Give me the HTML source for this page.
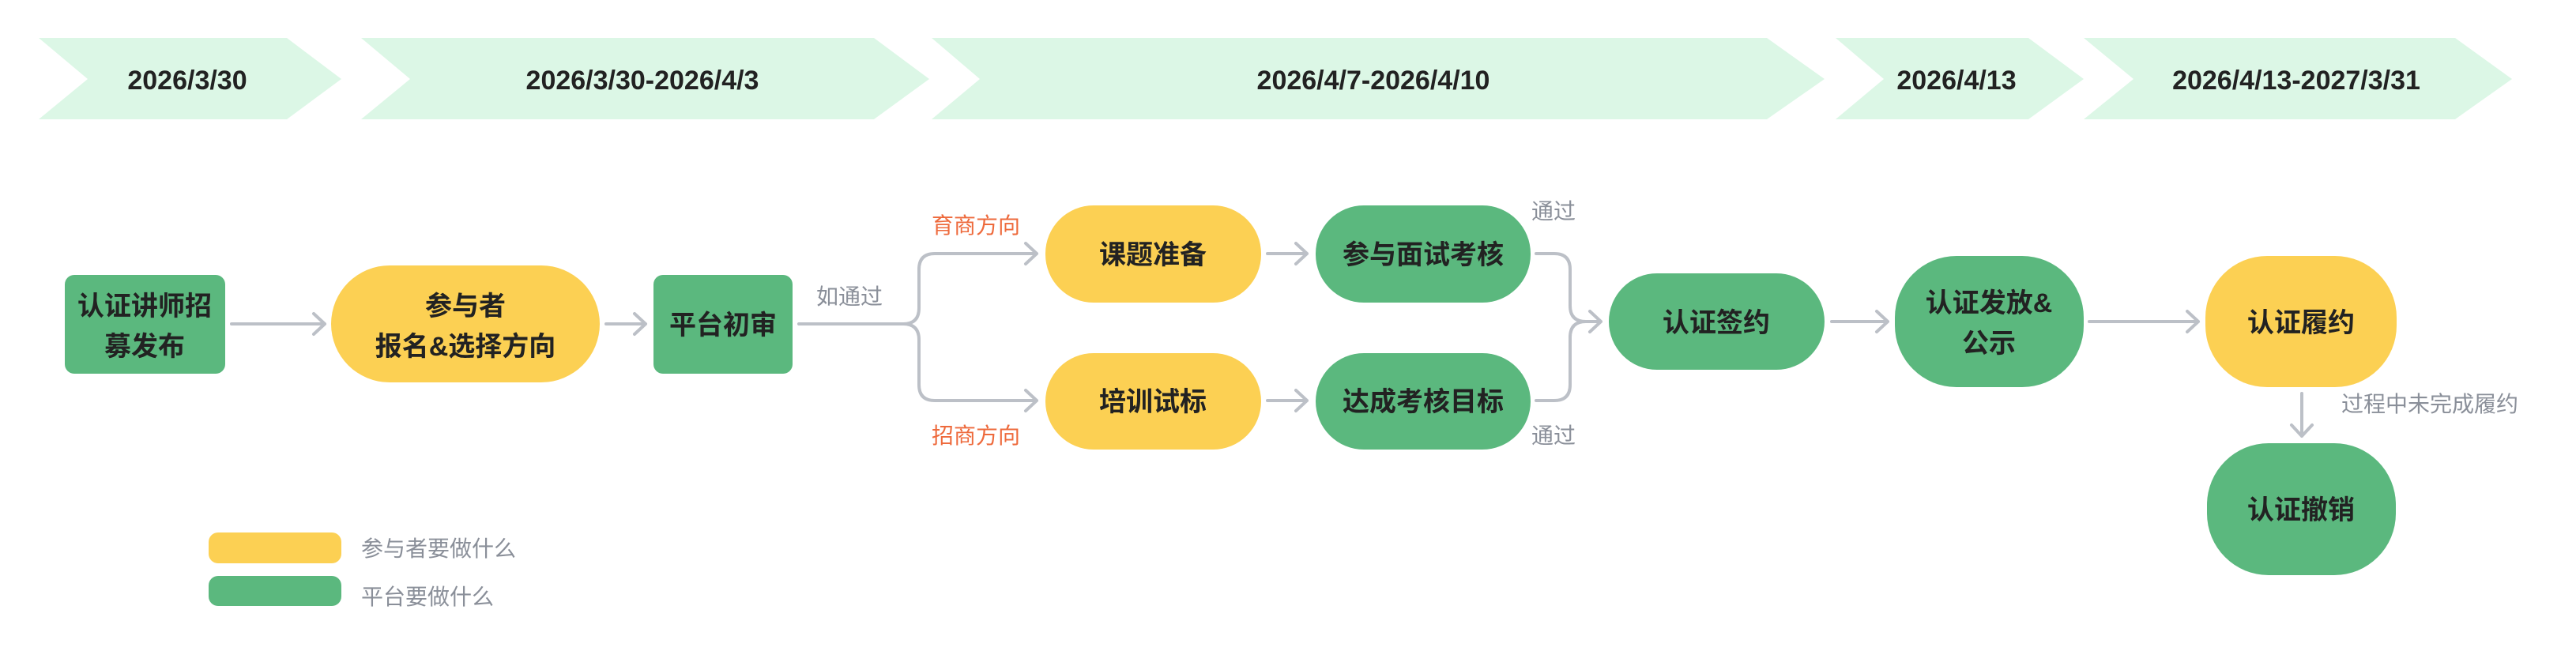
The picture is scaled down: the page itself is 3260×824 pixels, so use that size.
<!DOCTYPE html>
<html><head><meta charset="utf-8"><style>
html,body{margin:0;padding:0;background:#fff;}
svg{display:block;}
text{font-family:"Liberation Sans","Noto Sans CJK SC",sans-serif;}
.d{font-size:34px;font-weight:700;fill:#222;font-family:"Noto Sans CJK SC",sans-serif;}
.n{font-size:34px;font-weight:700;fill:#222;font-family:"Noto Sans CJK SC",sans-serif;}
.g{font-size:28px;fill:#8a8f99;font-family:"Noto Sans CJK SC",sans-serif;}
.o{font-size:28px;fill:#ee6a3c;font-family:"Noto Sans CJK SC",sans-serif;}
.l{fill:none;stroke:#bcc0c7;stroke-width:4;stroke-linecap:round;stroke-linejoin:round;}
</style></head><body>
<svg width="3260" height="824" viewBox="0 0 3260 824" xmlns="http://www.w3.org/2000/svg">
<g fill="#dcf7e6">
<polygon points="49,48 363,48 432,100 363,151 49,151 111,100"/>
<polygon points="457,48 1106,48 1176,100 1106,151 457,151 519,100"/>
<polygon points="1179,48 2236,48 2309,100 2236,151 1179,151 1240,100"/>
<polygon points="2323,48 2567,48 2637,100 2567,151 2323,151 2384,100"/>
<polygon points="2637,48 3107,48 3179,100 3107,151 2637,151 2700,100"/>
</g>
<g class="d" text-anchor="middle" dominant-baseline="central">
<text x="237" y="102">2026/3/30</text>
<text x="813" y="102">2026/3/30-2026/4/3</text>
<text x="1738" y="102">2026/4/7-2026/4/10</text>
<text x="2476" y="102">2026/4/13</text>
<text x="2906" y="102">2026/4/13-2027/3/31</text>
</g>
<rect x="82" y="348" width="203" height="125" rx="12" fill="#5bb87e"/>
<rect x="419" y="336" width="340" height="148" rx="74" fill="#fcd053"/>
<rect x="827" y="348" width="176" height="125" rx="12" fill="#5bb87e"/>
<rect x="1323" y="260" width="273" height="123" rx="61" fill="#fcd053"/>
<rect x="1323" y="447" width="273" height="122" rx="61" fill="#fcd053"/>
<rect x="1665" y="260" width="272" height="123" rx="61" fill="#5bb87e"/>
<rect x="1665" y="447" width="272" height="122" rx="61" fill="#5bb87e"/>
<rect x="2036" y="346" width="273" height="122" rx="61" fill="#5bb87e"/>
<rect x="2398" y="324" width="239" height="166" rx="78" fill="#5bb87e"/>
<rect x="2791" y="324" width="242" height="166" rx="78" fill="#fcd053"/>
<rect x="2793" y="561" width="239" height="167" rx="78" fill="#5bb87e"/>
<g class="n" text-anchor="middle" dominant-baseline="central">
<text x="183" y="388">认证讲师招</text><text x="183" y="439">募发布</text>
<text x="589" y="388">参与者</text><text x="589" y="439">报名&amp;选择方向</text>
<text x="915" y="412">平台初审</text>
<text x="1459" y="323">课题准备</text>
<text x="1459" y="509">培训试标</text>
<text x="1801" y="323">参与面试考核</text>
<text x="1801" y="509">达成考核目标</text>
<text x="2172" y="409">认证签约</text>
<text x="2517" y="384">认证发放&amp;</text><text x="2517" y="435">公示</text>
<text x="2912" y="409">认证履约</text>
<text x="2912" y="646">认证撤销</text>
</g>
<g class="l">
<path d="M293,410 H411 M397,397 L411,410 L397,423"/>
<path d="M767,410 H817 M803,397 L817,410 L803,423"/>
<path d="M1011,410 H1143 Q1163,410 1163,390 V341 Q1163,321 1183,321 H1312 M1298,308 L1312,321 L1298,334"/>
<path d="M1143,410 Q1163,410 1163,430 V487 Q1163,507 1183,507 H1312 M1298,494 L1312,507 L1298,520"/>
<path d="M1604,321 H1654 M1640,308 L1654,321 L1640,334"/>
<path d="M1604,507 H1654 M1640,494 L1654,507 L1640,520"/>
<path d="M1944,321 H1967 Q1987,321 1987,341 V387 Q1987,407 2007,407 H2026 M2012,394 L2026,407 L2012,420"/>
<path d="M1944,507 H1967 Q1987,507 1987,487 V427 Q1987,407 2007,407"/>
<path d="M2318,407 H2389 M2375,394 L2389,407 L2375,420"/>
<path d="M2644,407 H2782 M2768,394 L2782,407 L2768,420"/>
<path d="M2913,498 V552 M2900,538 L2913,552 L2926,538"/>
</g>
<g dominant-baseline="central">
<text class="g" x="1033" y="374">如通过</text>
<text class="o" x="1179" y="284">育商方向</text>
<text class="o" x="1179" y="550">招商方向</text>
<text class="g" x="1938" y="266">通过</text>
<text class="g" x="1938" y="550">通过</text>
<text class="g" x="2963" y="510">过程中未完成履约</text>
</g>
<rect x="264" y="674" width="168" height="39" rx="12" fill="#fcd053"/>
<rect x="264" y="729" width="168" height="38" rx="12" fill="#5bb87e"/>
<g dominant-baseline="central">
<text class="g" x="457" y="693">参与者要做什么</text>
<text class="g" x="457" y="754">平台要做什么</text>
</g>
</svg>
</body></html>
